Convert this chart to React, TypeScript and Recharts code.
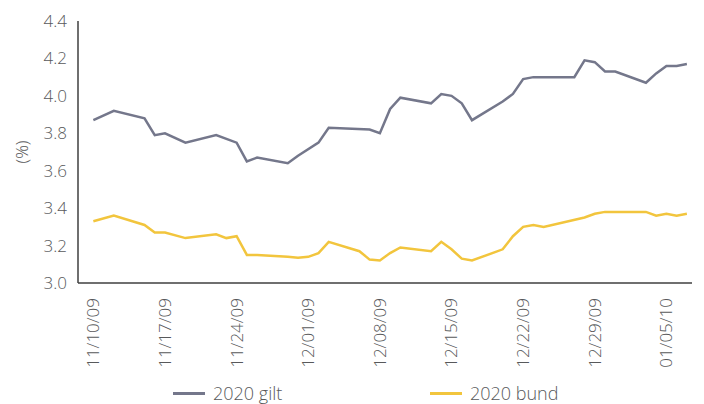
import React from 'react';
import { LineChart, Line, XAxis, YAxis } from 'recharts';

// values; dates are plotted by calendar day
const giltDates = [
  '11/10/09', '11/12/09', '11/15/09', '11/16/09', '11/17/09', '11/19/09', '11/22/09', '11/24/09',
  '11/25/09', '11/26/09', '11/29/09', '11/30/09', '12/02/09', '12/03/09', '12/07/09', '12/08/09',
  '12/09/09', '12/10/09', '12/13/09', '12/14/09', '12/15/09', '12/16/09', '12/17/09', '12/20/09',
  '12/21/09', '12/22/09', '12/23/09', '12/27/09', '12/28/09', '12/29/09', '12/30/09', '12/31/09',
  '01/03/10', '01/04/10', '01/05/10', '01/06/10', '01/07/10'
];
const giltValues = [
  3.87, 3.92, 3.88, 3.79, 3.80, 3.75, 3.79, 3.75,
  3.65, 3.67, 3.64, 3.68, 3.75, 3.83, 3.82, 3.80,
  3.93, 3.99, 3.96, 4.01, 4.00, 3.96, 3.87, 3.97,
  4.01, 4.09, 4.10, 4.10, 4.19, 4.18, 4.13, 4.13,
  4.07, 4.12, 4.16, 4.16, 4.17
];

const bundDates = [
  '11/10/09', '11/12/09', '11/15/09', '11/16/09', '11/17/09', '11/19/09', '11/22/09', '11/23/09',
  '11/24/09', '11/25/09', '11/26/09', '11/29/09', '11/30/09', '12/01/09', '12/02/09', '12/03/09',
  '12/06/09', '12/07/09', '12/08/09', '12/09/09', '12/10/09', '12/13/09', '12/14/09', '12/15/09',
  '12/16/09', '12/17/09', '12/20/09', '12/21/09', '12/22/09', '12/23/09', '12/24/09', '12/28/09',
  '12/29/09', '12/30/09', '01/03/10', '01/04/10', '01/05/10', '01/06/10', '01/07/10'
];
const bundValues = [
  3.33, 3.36, 3.31, 3.27, 3.27, 3.24, 3.26, 3.24,
  3.25, 3.15, 3.15, 3.14, 3.135, 3.14, 3.16, 3.22,
  3.17, 3.125, 3.12, 3.16, 3.19, 3.17, 3.22, 3.18,
  3.13, 3.12, 3.18, 3.25, 3.30, 3.31, 3.30, 3.35,
  3.37, 3.38, 3.38, 3.36, 3.37, 3.36, 3.37
];

const tickLabels = [
  '11/10/09', '11/17/09', '11/24/09', '12/01/09', '12/08/09',
  '12/15/09', '12/22/09', '12/29/09', '01/05/10'
];
const yTicks = [3.0, 3.2, 3.4, 3.6, 3.8, 4.0, 4.2, 4.4];

const GILT = '#74778b';
const BUND = '#f2c53d';
const TEXT = '#58595b';

const DAY_MS = 86400000;
const origin = Date.UTC(2009, 10, 10);
const toDay = (s: string) => {
  const [m, d, y] = s.split('/').map(Number);
  return Math.round((Date.UTC(2000 + y, m - 1, d) - origin) / DAY_MS);
};

interface Row {
  day: number;
  gilt?: number;
  bund?: number;
}

const buildRows = (): Row[] => {
  const map = new Map<number, Row>();
  giltDates.forEach((s, i) => {
    const day = toDay(s);
    const row = map.get(day) || { day };
    row.gilt = giltValues[i];
    map.set(day, row);
  });
  bundDates.forEach((s, i) => {
    const day = toDay(s);
    const row = map.get(day) || { day };
    row.bund = bundValues[i];
    map.set(day, row);
  });
  return Array.from(map.values()).sort((a, b) => a.day - b.day);
};

const rows = buildRows();
const xTicks = tickLabels.map(toDay);

const XTick = (props: any) => {
  const { x, y, payload } = props;
  const idx = xTicks.indexOf(payload.value);
  return (
    <text
      x={x}
      y={y}
      dy="0.35em"
      textAnchor="end"
      transform={`rotate(-90 ${x} ${y})`}
      fill={TEXT}
      fontSize={17}
      fontWeight={300}
    >
      {idx >= 0 ? tickLabels[idx] : ''}
    </text>
  );
};

const YLabel = (props: any) => {
  const { viewBox } = props;
  const x = viewBox.x + 14;
  const y = viewBox.y + viewBox.height / 2;
  return (
    <text
      x={x}
      y={y}
      dy="0.35em"
      textAnchor="middle"
      transform={`rotate(-90 ${x} ${y})`}
      fill={TEXT}
      fontSize={17}
      fontWeight={300}
    >
      (%)
    </text>
  );
};

const legendItems = [
  { name: '2020 gilt', color: GILT, left: 165 },
  { name: '2020 bund', color: BUND, left: 422 }
];

export default function App() {
  return (
    <div style={{ position: 'relative', width: 696, height: 396, fontFamily: '"Open Sans", sans-serif' }}>
      <LineChart width={696} height={396} data={rows} margin={{ top: 13, right: 12, left: 0, bottom: 31 }}>
        <XAxis
          dataKey="day"
          type="number"
          domain={[-1.5, 58.5]}
          ticks={xTicks}
          allowDataOverflow
          tick={<XTick />}
          tickLine={false}
          tickSize={0}
          tickMargin={15}
          height={90}
          interval={0}
          axisLine={{ stroke: '#3f3f3f', strokeWidth: 1.5 }}
        />
        <YAxis
          domain={[3.0, 4.4]}
          ticks={yTicks}
          tickFormatter={(v: number) => v.toFixed(1)}
          tickLine={false}
          tickMargin={5}
          width={70}
          interval={0}
          tick={{ fill: TEXT, fontSize: 17, fontWeight: 300 }}
          axisLine={{ stroke: '#3f3f3f', strokeWidth: 1.5 }}
          label={<YLabel />}
        />
        <Line
          type="linear"
          dataKey="gilt"
          stroke={GILT}
          strokeWidth={2.5}
          dot={false}
          connectNulls
          isAnimationActive={false}
        />
        <Line
          type="linear"
          dataKey="bund"
          stroke={BUND}
          strokeWidth={2.5}
          dot={false}
          connectNulls
          isAnimationActive={false}
        />
      </LineChart>
      {legendItems.map(item => (
        <div
          key={item.name}
          style={{
            position: 'absolute',
            left: item.left,
            top: 373,
            height: 24,
            display: 'flex',
            alignItems: 'center',
            color: TEXT,
            fontSize: 18,
            fontWeight: 300
          }}
        >
          <span style={{ display: 'inline-block', width: 32, height: 3, background: item.color, marginRight: 8 }} />
          <span>{item.name}</span>
        </div>
      ))}
    </div>
  );
}
